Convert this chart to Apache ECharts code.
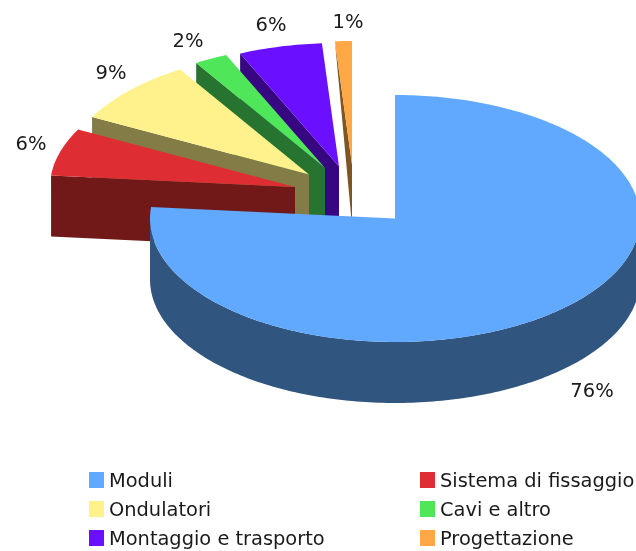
<!DOCTYPE html>
<html><head><meta charset="utf-8">
<style>html,body{margin:0;padding:0;background:#fff}#c{width:636px;height:551px}</style>
<script src="https://cdn.jsdelivr.net/npm/echarts@6/dist/echarts.min.js"></script>
</head><body><div id="c"></div>
<script>
const categories = ['Moduli','Sistema di fissaggio','Ondulatori','Cavi e altro','Montaggio e trasporto','Progettazione'];
const shares = [76.49, 6.2, 8.5, 2.2, 5.5, 1.11];
const topColors = ['#61a8ff','#df2e33','#fff28c','#4fe659','#6a0fff','#ffa845'];
const wallColors = ['#30557f','#711819','#837c47','#277330','#360780','#7f5623'];

// Layout of the projected pie
const RX = 245, RY = 123.5, DEPTH = 61;
const apexes = [[395,218.5],[295,187],[309,174.5],[325,168],[339,166.5],[352,164.5]];
const outerDepths = [61,61,61,61,100,0];
const labelAnchors = [[592,392],[31,145],[111,74],[188,42],[271,26],[348,23]];
const TEXT = '#1a1a1a', FONT = '"DejaVu Sans", Verdana, sans-serif';

const total = shares.reduce((a,b)=>a+b,0);
const starts = []; shares.reduce((acc,v,i)=>{starts[i]=acc;return acc+v;},0);
const deg = v => v/total*360;
function pt(apex, a, dy){
  const r = a*Math.PI/180;
  return [apex[0]+RX*Math.sin(r), apex[1]-RY*Math.cos(r)+(dy||0)];
}
function arc(apex,a0,a1,dy){
  const out=[]; const n=Math.max(2,Math.ceil(Math.abs(a1-a0)));
  for(let i=0;i<=n;i++) out.push(pt(apex,a0+(a1-a0)*i/n,dy));
  return out;
}
function makeRender(i){
  return function(params, api){
    const v = api.value(0);
    const a0 = deg(starts[i]), a1 = a0+deg(v);
    const apex = apexes[i];
    const children = [];
    const lo = Math.max(a0,90), hi = Math.min(a1,270);
    if(hi>lo){
      children.push({type:'polygon',shape:{points:arc(apex,lo,hi,0).concat(arc(apex,hi,lo,DEPTH))},style:{fill:wallColors[i]}});
    }
    if(a0>180){
      const o = pt(apex,a0,0), od = pt(apex,a0,outerDepths[i]);
      const pts = [o,apex,[apex[0],apex[1]+DEPTH]];
      if(outerDepths[i]>0) pts.push(od);
      children.push({type:'polygon',shape:{points:pts},style:{fill:wallColors[i]}});
    }
    children.push({type:'polygon',shape:{points:[apex].concat(arc(apex,a0,a1,0))},style:{fill:topColors[i]}});
    children.push({type:'text',style:{x:labelAnchors[i][0],y:labelAnchors[i][1],text:Math.round(v)+'%',
      fill:TEXT,font:'19.5px '+FONT,align:'center',verticalAlign:'middle'}});
    return {type:'group',children};
  };
}
const drawOrder = [5,4,3,2,1,0];
const series = categories.map((name,i)=>({
  type:'custom',name,coordinateSystem:'none',
  z:2+drawOrder.indexOf(i),silent:true,animation:false,
  itemStyle:{color:topColors[i]},
  data:[[shares[i]]],
  renderItem:makeRender(i)
}));
const legendBase = {orient:'vertical',icon:'rect',itemWidth:15,itemHeight:16,itemGap:9.5,padding:0,height:100,
  formatter:n=>'{a|'+n+'}',
  textStyle:{color:TEXT,fontSize:19.4,fontFamily:FONT,
    rich:{a:{color:TEXT,fontSize:19.4,fontFamily:FONT,padding:[4,0,0,0]}}},selectedMode:false};
const chart = echarts.init(document.getElementById('c'));
chart.setOption({
  animation:false,backgroundColor:'#fff',
  legend:[
    Object.assign({},legendBase,{left:89,top:472,data:[categories[0],categories[2],categories[4]]}),
    Object.assign({},legendBase,{left:420,top:472,data:[categories[1],categories[3],categories[5]]})
  ],
  series
});
</script></body></html>
